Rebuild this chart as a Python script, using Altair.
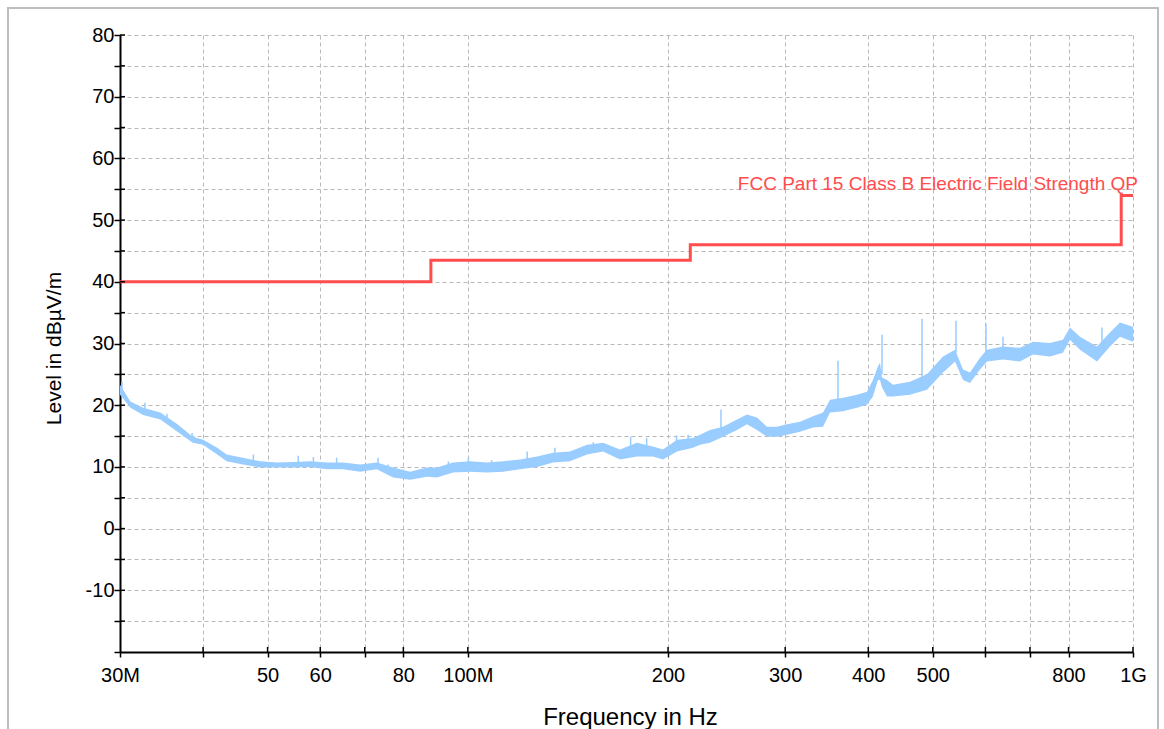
import altair as alt
import pandas as pd

# Measured emission trace: frequency (MHz) with lower / upper edge of the noisy trace (dBµV/m)
freq_mhz = [30, 31.1, 32.5, 34.5, 36.6, 38.6, 40.0, 42.0, 43.4, 45.9, 48.7, 51.7, 54.6, 57.9,
            61.4, 64.9, 68.9, 73.0, 77.2, 81.9, 86.8, 89.9, 95.0, 100.8, 106.9, 113.0, 119.8,
            127.1, 134.3, 142.4, 151.1, 159.7, 169.3, 179.6, 189.8, 196.5, 206.3, 218.0, 223.4,
            231.2, 241.9, 253.9, 262.8, 272.1, 281.7, 291.6, 301.9, 315.8, 330.3, 342.0, 350.4,
            366.5, 384.7, 398.2, 406.5, 413.6, 416.5, 419.4, 426.7, 435.7, 462.1, 490.1, 518.1,
            540.1, 555.2, 568.8, 588.8, 603.3, 637.6, 676.2, 707.4, 750.2, 784.7, 803.9, 832.3,
            882.7, 923.3, 955.9, 1000]
level_lo = [21.7, 19.6, 18.4, 17.7, 15.7, 13.9, 13.6, 12.0, 10.9, 10.4, 9.9, 9.9, 9.9, 10.0,
            9.6, 9.6, 9.2, 9.6, 8.3, 7.9, 8.4, 8.3, 9.1, 9.2, 9.1, 9.2, 9.6,
            10.0, 10.7, 10.9, 12.0, 12.5, 11.2, 11.7, 11.7, 11.2, 12.5, 13.1, 13.6,
            13.9, 14.9, 16.0, 16.9, 16.0, 14.9, 14.9, 15.2, 15.7, 16.4, 16.5, 18.8,
            19.0, 19.6, 20.1, 21.4, 24.1, 24.1, 22.9, 21.4, 21.4, 21.7, 22.5, 25.3,
            27.1, 24.1, 23.6, 25.8, 27.1, 27.4, 27.1, 28.2, 27.9, 28.5, 30.6, 29.0,
            27.1, 29.5, 31.1, 30.3]
level_hi = [23.3, 20.6, 19.6, 18.8, 16.9, 14.9, 14.4, 13.1, 12.0, 11.5, 10.9, 10.7, 10.8, 10.9,
            10.7, 10.7, 10.4, 10.7, 9.9, 9.2, 9.9, 9.9, 10.7, 10.9, 10.7, 10.9, 11.2,
            11.7, 12.3, 12.5, 13.6, 13.9, 12.8, 13.9, 13.3, 12.8, 14.4, 14.7, 15.2,
            16.0, 16.5, 17.7, 18.5, 18.0, 16.5, 16.5, 16.9, 17.3, 18.2, 18.8, 20.9,
            21.2, 21.7, 22.2, 24.1, 26.3, 26.9, 24.5, 24.1, 23.3, 23.8, 25.0, 27.9,
            29.0, 25.8, 25.3, 27.7, 29.0, 29.5, 29.3, 30.3, 30.1, 30.6, 32.6, 31.1,
            29.5, 31.8, 33.4, 32.7]

# Narrow-band spikes rising above the trace
spike_freq = [30.2, 32.7, 35.3, 38.5, 47.6, 55.6, 58.6, 63.5, 73.3, 75.9, 93.5, 100.2, 108.6,
              122.8, 135.2, 154.4, 175.7, 185.7, 205.9, 214.4, 240.2, 360.2, 419.4, 481.7,
              541.9, 601.2, 637.6, 898.1]
spike_base = [22.0, 19.0, 17.5, 14.5, 10.5, 10.5, 10.5, 10.3, 10.5, 9.5, 10.0, 10.5, 10.2,
              11.0, 12.0, 13.0, 13.0, 13.5, 14.0, 14.5, 16.0, 20.0, 25.0, 23.5,
              28.5, 28.5, 29.0, 29.0]
spike_peak = [23.8, 20.4, 18.6, 15.5, 12.0, 11.8, 11.6, 11.5, 11.5, 10.4, 10.9, 11.5, 11.1,
              12.5, 13.1, 14.0, 14.9, 14.7, 15.1, 15.2, 19.3, 27.2, 31.4, 34.0,
              33.7, 33.2, 31.1, 32.6]

# Quasi-peak limit line
limit_freq = [30, 88, 216, 960, 1000]
limit_level = [40, 43.5, 46, 54, 54]
limit_name = "FCC Part 15 Class B Electric Field Strength QP"

x_ticks = [30, 40, 50, 60, 70, 80, 100, 200, 300, 400, 500, 600, 700, 800, 1000]
x_labels = {30: "30M", 50: "50", 60: "60", 80: "80", 100: "100M", 200: "200",
            300: "300", 400: "400", 500: "500", 800: "800", 1000: "1G"}
y_ticks = list(range(-20, 81, 5))

W, H = 1013, 617
FONT = "Liberation Sans"
TRACE = "#99CCFF"
LIMIT = "#FF4D4D"
GRID = "#b9b9b9"

trace_df = pd.DataFrame({"freq": freq_mhz, "lo": level_lo, "hi": level_hi})
spike_df = pd.DataFrame({"freq": spike_freq, "lo": spike_base, "hi": spike_peak})
limit_df = pd.DataFrame({"freq": limit_freq, "lo": limit_level})
label_df = pd.DataFrame({"freq": [limit_freq[-1]], "lo": [limit_level[-1]], "name": [limit_name]})
ytick_df = pd.DataFrame({"lo": y_ticks[1:]})
xtick_df = pd.DataFrame({"freq": x_ticks[1:]})
frame_df = pd.DataFrame({"k": [0]})

x_scale = alt.Scale(type="log", domain=[30, 1000], nice=False)
y_scale = alt.Scale(domain=[-20, 80], nice=False, zero=False)

x_label_expr = " : ".join(f"datum.value == {k} ? '{v}'" for k, v in x_labels.items()) + " : ''"

x_axis = alt.Axis(
    values=x_ticks, labelExpr=x_label_expr, title="Frequency in Hz",
    grid=True, gridDash=[4, 3], gridColor=GRID, gridWidth=1,
    domainColor="black", domainWidth=2, tickColor="black", tickSize=5, tickWidth=1.5,
    labelFont=FONT, labelFontSize=20, labelColor="black", labelPadding=8,
    labelFlush=False, labelOverlap=False,
    titleFont=FONT, titleFontSize=24, titleFontWeight="normal", titleColor="black",
    titleX=510, titleY=72, titleBaseline="alphabetic", titleAlign="center",
)
y_axis = alt.Axis(
    values=y_ticks, labelExpr="datum.value % 10 == 0 && datum.value > -20 ? '' + datum.value : ''",
    title="Level in dBµV/m",
    grid=True, gridDash=[4, 3], gridColor=GRID, gridWidth=1,
    domainColor="black", domainWidth=2, tickColor="black", tickSize=6, tickWidth=1.5,
    labelFont=FONT, labelFontSize=20, labelColor="black", labelPadding=0, labelOverlap=False,
    titleFont=FONT, titleFontSize=21, titleFontWeight="normal", titleColor="black",
    titleX=-66, titleY=313, titleAngle=-90, titleBaseline="middle", titleAlign="center",
)

X = alt.X("freq:Q", scale=x_scale, axis=x_axis)
Y = alt.Y("lo:Q", scale=y_scale, axis=y_axis)

trace = alt.Chart(trace_df).mark_area(color=TRACE, opacity=1, interpolate="linear").encode(
    x=X, y=Y, y2="hi:Q",
)

spikes = alt.Chart(spike_df).mark_rule(color=TRACE, strokeWidth=1.5).encode(
    x=X, y=Y, y2="hi:Q",
)

limit = alt.Chart(limit_df).mark_line(color=LIMIT, strokeWidth=3, interpolate="step-after").encode(
    x=X, y=Y,
)

limit_label = alt.Chart(label_df).mark_text(
    color=LIMIT, font=FONT, fontSize=19, align="right", baseline="alphabetic", dx=5, dy=-5,
).encode(
    x=X, y=Y, text="name:N",
)

# Tick marks continue a few pixels inside the plot
y_inner_ticks = alt.Chart(ytick_df).mark_rule(color="black", strokeWidth=1.5).encode(
    y=Y, x=alt.value(0), x2=alt.value(5),
)
x_inner_ticks = alt.Chart(xtick_df).mark_rule(color="black", strokeWidth=1.5).encode(
    x=X, y=alt.value(H - 5), y2=alt.value(H),
)

# Light outer panel border
frame = alt.Chart(frame_df).mark_rect(fill=None, stroke="#bdbdbd", strokeWidth=2).encode(
    x=alt.value(-112), x2=alt.value(1038), y=alt.value(-27), y2=alt.value(720),
)

chart = alt.layer(
    trace, spikes, limit, limit_label, y_inner_ticks, x_inner_ticks, frame
).properties(
    width=W, height=H,
    autosize=alt.AutoSizeParams(type="none"),
    padding={"left": 120, "top": 35, "right": 31, "bottom": 77},
    background="white",
).configure_view(stroke=None)

chart.save("out.html", embed_options={"renderer": "svg", "actions": False})
